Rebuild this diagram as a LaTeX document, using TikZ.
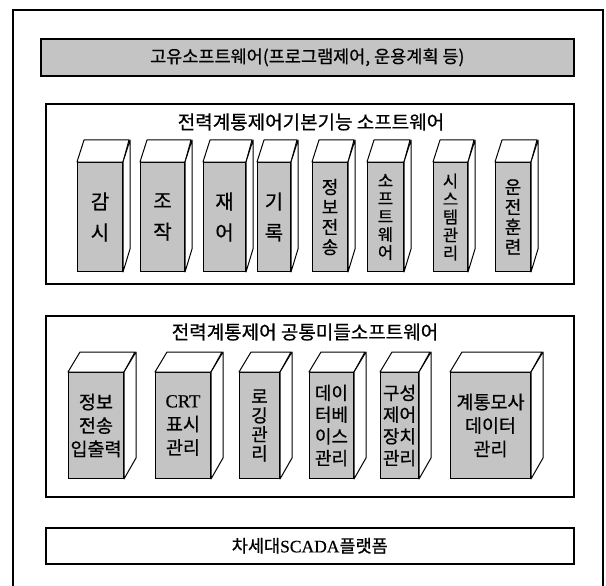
\documentclass[tikz,border=0pt]{standalone}
\usepackage{fontspec}
\newfontfamily\kr[FakeBold=0.6]{Noto Sans CJK KR}
\newfontfamily\lat[FakeBold=0.6]{Liberation Serif}
\definecolor{screen}{gray}{0.77}
\tikzset{
  frameline/.style={line width=2.2pt},
  panel/.style={draw, line width=1.6pt, inner sep=0pt, anchor=north west},
  band/.style={panel, fill=screen},
  front/.style={draw, line width=1pt, fill=screen, inner sep=0pt, align=center, anchor=north west},
  face/.style={draw, line width=1pt, fill=white, line join=round},
  ttl/.style={font=\kr\fontsize{19}{21}\selectfont, inner sep=0pt},
  big/.style={font=\kr\fontsize{20}{31}\selectfont},
  mid/.style={font=\kr\fontsize{18}{20}\selectfont},
  sml/.style={font=\kr\fontsize{16.5}{18}\selectfont},
  lo/.style={font=\kr\fontsize{18.5}{23.5}\selectfont},
  lo4/.style={font=\kr\fontsize{18}{21.7}\selectfont},
  lo5/.style={font=\kr\fontsize{18}{19}\selectfont},
}
\newcommand\cubY{162}
\newcommand\cubH{109}
\newcommand\cubDX{7}
\newcommand\cubDY{-22}
\newcommand\cub[5][]{%
  \node[front, minimum width=#4pt, minimum height=\cubH pt, #1] (#2) at (#3,\cubY) {#5};
  \draw[face] (#2.north west) -- ++(\cubDX,\cubDY) -- ++(#4,0) -- (#2.north east) -- cycle;
  \draw[face] (#2.north east) -- ++(\cubDX,\cubDY) -- ++(0,\cubH) -- (#2.south east) -- cycle;
}
\begin{document}
\begin{tikzpicture}[x=1pt,y=-1pt]
\useasboundingbox (0,0) rectangle (606,586);
% outer frame
\draw[frameline] (13,586) -- (13,10) -- (603,10) -- (603,586);
% top band
\node[band, minimum width=533pt, minimum height=37pt, font=\kr\fontsize{17.5}{20}\selectfont] (top) at (40,38) {고유소프트웨어(프로그램제어, 운용계획 등)};
% panel 2
\node[panel, minimum width=528pt, minimum height=180pt] (p2) at (45,103) {};
\node[ttl] (t2) at (311,122) {전력계통제어기본기능 소프트웨어};
\cub[big]{a1}{77}{45}{감\\시}
\cub[big]{a2}{140}{44}{조\\작}
\cub[big]{a3}{203}{42}{재\\어}
\cub[big]{a4}{257}{33}{기\\록}
\cub[mid]{a5}{312}{35}{정\\보\\전\\송}
\cub[sml]{a6}{367}{36}{소\\프\\트\\웨\\어}
\cub[sml]{a7}{433}{34}{시\\스\\템\\관\\리}
\cub[mid]{a8}{495}{35}{운\\전\\훈\\련}
% panel 3
\node[panel, minimum width=528pt, minimum height=181pt] (p3) at (45,315) {};
\node[ttl] (t3) at (305,332) {전력계통제어 공통미들소프트웨어};
\renewcommand\cubY{372}
\renewcommand\cubH{106}
\renewcommand\cubDX{12}
\renewcommand\cubDY{-20}
\cub[lo]{b1}{68}{55}{정보\\전송\\입출력}
\cub[lo]{b2}{155}{55}{{\lat CRT}\\표시\\관리}
\cub[lo5]{b3}{239}{40}{로\\깅\\관\\리}
\cub[lo4]{b4}{309}{44}{데이\\터베\\이스\\관리}
\cub[lo4]{b5}{380}{38}{구성\\제어\\장치\\관리}
\cub[lo]{b6}{450}{80}{계통모사\\데이터\\관리}
% panel 4
\node[panel, minimum width=528pt, minimum height=36pt, font=\kr\fontsize{17.5}{20}\selectfont] (p4) at (45,527) {차세대{\lat SCADA}플랫폼};
\end{tikzpicture}
\end{document}
